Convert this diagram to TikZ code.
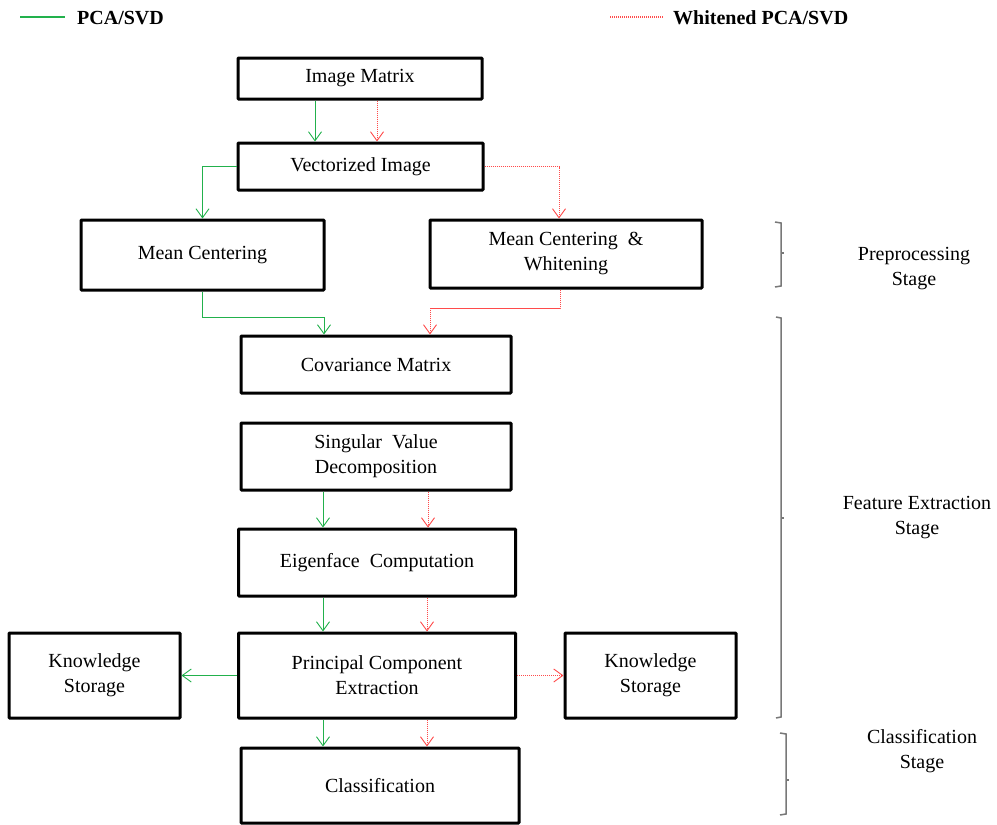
\documentclass[tikz,border=0pt]{standalone}
\usepackage{fontspec}
\setmainfont{Liberation Serif}
\usetikzlibrary{arrows.meta,calc}
\definecolor{pcagreen}{RGB}{34,177,76}
\definecolor{wred}{RGB}{255,75,75}
\definecolor{brgray}{RGB}{120,120,120}
\tikzset{
  stepbox/.style={draw=black,line width=3pt,rounded corners=0.8pt,fill=white,
    align=center,inner sep=0pt,font=\fontsize{20}{25}\selectfont},
  garrow/.style={draw=pcagreen,line width=0.9pt,-{Straight Barb[length=9pt,width=13pt,line width=0.9pt]}},
  rarrow/.style={draw=wred,line width=0.9pt,dash pattern=on 1.2pt off 0.8pt,-{Straight Barb[length=9pt,width=13pt,line width=0.9pt]}},
  brace/.style={draw=brgray,line width=1.5pt},
  stagelbl/.style={align=center,font=\fontsize{20}{25}\selectfont,inner sep=0pt},
  legendlbl/.style={anchor=west,font=\fontsize{20}{24}\selectfont\bfseries,inner sep=0pt}
}
\begin{document}
\begin{tikzpicture}[x=1pt,y=-1pt]
\useasboundingbox (0,0) rectangle (997,825);

% legend
\coordinate (lg1) at (20,17);
\coordinate (lg2) at (65,17);
\coordinate (lr1) at (610,17);
\coordinate (lr2) at (663,17);
\draw[draw=pcagreen,line width=1.5pt] (lg1) -- (lg2);
\node[legendlbl] (lgt) at (77,18) {PCA/SVD};
\draw[draw=wred,line width=1.2pt,dash pattern=on 1.2pt off 0.8pt] (lr1) -- (lr2);
\node[legendlbl] (lrt) at (673,18) {Whitened PCA/SVD};

% boxes
\node[stepbox,minimum width=244pt,minimum height=41pt] (im)  at (360,78.5) {\raisebox{-3pt}{Image Matrix}};
\node[stepbox,minimum width=245pt,minimum height=47pt] (vec) at (360.5,166.5) {\raisebox{-2pt}{Vectorized Image}};
\node[stepbox,minimum width=243pt,minimum height=70pt] (mc)  at (202.5,255) {Mean Centering};
\node[stepbox,minimum width=272pt,minimum height=68pt] (mcw) at (566,254) {Mean Centering\ \ \&\\Whitening};
\node[stepbox,minimum width=270pt,minimum height=57pt] (cov) at (376,364.5) {Covariance Matrix};
\node[stepbox,minimum width=270pt,minimum height=67pt] (svd) at (376,456.5) {Singular\ \ Value\\Decomposition};
\node[stepbox,minimum width=277pt,minimum height=67pt] (eig) at (377,562.5) {\raisebox{-2pt}{Eigenface\ \ Computation}};
\node[stepbox,minimum width=277pt,minimum height=85pt] (pce) at (377,675.5) {Principal Component\\Extraction};
\node[stepbox,minimum width=171pt,minimum height=85pt] (ksl) at (94.5,675.5) {Knowledge\\Storage};
\node[stepbox,minimum width=171pt,minimum height=85pt] (ksr) at (650.5,675.5) {Knowledge\\Storage};
\node[stepbox,minimum width=278pt,minimum height=75pt] (cls) at (380,785.5) {Classification};

% connectors
\draw[garrow] (315,0 |- im.south) -- (315,0 |- vec.north);
\draw[rarrow] (377,0 |- im.south) -- (377,0 |- vec.north);
\draw[garrow] (vec.west) -| (mc.north);
\draw[rarrow] (vec.east) -| (559,0 |- mcw.north);
\draw[garrow] (mc.south) -- (202.5,317) -| (324,0 |- cov.north);
\draw[rarrow] (560,0 |- mcw.south) -- (560,308) -| (430,0 |- cov.north);
\draw[garrow] (323,0 |- svd.south) -- (323,0 |- eig.north);
\draw[rarrow] (428,0 |- svd.south) -- (428,0 |- eig.north);
\draw[garrow] (323,0 |- eig.south) -- (323,0 |- pce.north);
\draw[rarrow] (427,0 |- eig.south) -- (427,0 |- pce.north);
\draw[garrow] (323,0 |- pce.south) -- (323,0 |- cls.north);
\draw[rarrow] (427,0 |- pce.south) -- (427,0 |- cls.north);
\draw[garrow] (pce.west) -- (ksl.east);
\draw[rarrow] (pce.east) -- (ksr.west);

% stage braces
\draw[brace] (775,222) -- (781,223) -- (781,286) -- (775,287);
\draw[brace] (781,253) -- (784,253);
\draw[brace] (776,317) -- (781,318) -- (781,717) -- (776,718);
\draw[brace] (781,518) -- (784,518);
\draw[brace] (780,733) -- (786,734) -- (786,814) -- (780,815);
\draw[brace] (786,780) -- (789,780);

% stage labels
\node[stagelbl] (pre) at (914,269) {Preprocessing\\Stage};
\node[stagelbl] (fea) at (917,518) {Feature Extraction\\Stage};
\node[stagelbl] (cla) at (922,751) {Classification\\Stage};
\end{tikzpicture}
\end{document}
